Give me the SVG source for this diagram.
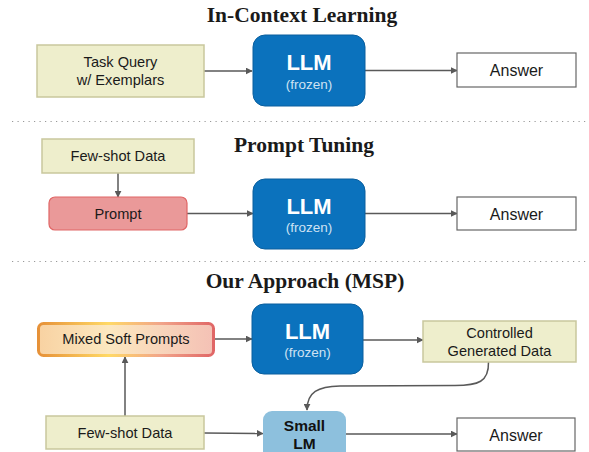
<svg xmlns="http://www.w3.org/2000/svg" width="589" height="452" viewBox="0 0 589 452">
<defs>
<style>
.title{font-family:"Liberation Serif","DejaVu Serif",serif;font-weight:bold;font-size:21.5px;fill:#1a1a1a;text-anchor:middle}
.lbl{font-family:"Liberation Sans",Arial,sans-serif;font-size:14.6px;fill:#1a1a1a;text-anchor:middle}
.alb{font-family:"Liberation Sans",Arial,sans-serif;font-size:16px;fill:#1a1a1a;text-anchor:middle}
.data{fill:#eeeecc;stroke:#c9c79d;stroke-width:1.5}
.ans{fill:#ffffff;stroke:#666666;stroke-width:1.2}
.llm{fill:#0b72bd;stroke:#0a5f9e;stroke-width:1}
.llmt{font-family:"Liberation Sans",Arial,sans-serif;font-weight:bold;font-size:22px;fill:#ffffff;text-anchor:middle}
.frz{font-family:"Liberation Sans",Arial,sans-serif;font-size:13.5px;fill:#cfe2f3;text-anchor:middle}
.con{fill:none;stroke:#595959;stroke-width:1.5;marker-end:url(#ah)}
.dot{stroke:#999999;stroke-width:1.2;stroke-dasharray:1.2 4.3}
.sml{font-family:"Liberation Sans",Arial,sans-serif;font-weight:bold;font-size:15.5px;fill:#111111;text-anchor:middle}
</style>
<marker id="ah" viewBox="0 0 10 10" refX="9" refY="5" markerWidth="7" markerHeight="7" markerUnits="userSpaceOnUse" orient="auto">
<path d="M0,0 L10,5 L0,10 z" fill="#595959"/>
</marker>
<linearGradient id="msps" x1="0" y1="0" x2="1" y2="0">
<stop offset="0" stop-color="#e69138"/>
<stop offset="0.4" stop-color="#ffd966"/>
<stop offset="0.7" stop-color="#f1a48a"/>
<stop offset="1" stop-color="#e06666"/>
</linearGradient>
<linearGradient id="mspf" x1="0" y1="0" x2="1" y2="0">
<stop offset="0" stop-color="#f8d2a2"/>
<stop offset="0.4" stop-color="#fce8c0"/>
<stop offset="1" stop-color="#f4c1b5"/>
</linearGradient>
</defs>
<rect width="589" height="452" fill="#ffffff"/>

<g id="titles">
<text class="title" x="302" y="21.5">In-Context Learning</text>
<text class="title" x="304" y="152">Prompt Tuning</text>
<text class="title" x="305" y="288">Our Approach (MSP)</text>
</g>
<g id="separators">
<line class="dot" x1="12" y1="121.5" x2="587" y2="121.5"/>
<line class="dot" x1="12" y1="261.5" x2="587" y2="261.5"/>
</g>

<g id="connectors">
<line class="con" x1="204" y1="71" x2="252" y2="71"/>
<line class="con" x1="365" y1="70.5" x2="457" y2="70.5"/>
<line class="con" x1="118" y1="173" x2="118" y2="197"/>
<line class="con" x1="187" y1="213.5" x2="253" y2="213.5"/>
<line class="con" x1="365" y1="213.5" x2="457" y2="213.5"/>
<line class="con" x1="125" y1="416" x2="125" y2="357"/>
<line class="con" x1="215" y1="339" x2="252" y2="339"/>
<line class="con" x1="363" y1="340" x2="423" y2="340"/>
<path class="con" d="M488.5,362 C489,382 478,385.5 455,385.5 L340,386 C318,386.5 307,392 307,410"/>
<line class="con" x1="204" y1="433" x2="263" y2="433.5"/>
<line class="con" x1="346" y1="434" x2="457" y2="434"/>
</g>

<g id="icl-query">
<rect class="data" x="37" y="45" width="167" height="52"/>
<text class="lbl" x="120.5" y="67">Task Query</text>
<text class="lbl" x="120.5" y="85">w/ Exemplars</text>
</g>
<g id="icl-llm">
<rect class="llm" x="253" y="35" width="112" height="71" rx="12"/>
<text class="llmt" x="309" y="70">LLM</text>
<text class="frz" x="309" y="89">(frozen)</text>
</g>
<g id="icl-answer">
<rect class="ans" x="457" y="53" width="119" height="34"/>
<text class="alb" x="516.5" y="76">Answer</text>
</g>

<g id="pt-fewshot">
<rect class="data" x="42" y="139" width="152" height="34"/>
<text class="lbl" x="118" y="161">Few-shot Data</text>
</g>
<g id="pt-prompt">
<rect x="49" y="197" width="138" height="33" rx="6" fill="#ea9999" stroke="#e06666" stroke-width="1.2"/>
<text class="lbl" x="118" y="219">Prompt</text>
</g>
<g id="pt-llm">
<rect class="llm" x="253" y="179" width="112" height="70" rx="12"/>
<text class="llmt" x="309" y="214">LLM</text>
<text class="frz" x="309" y="232">(frozen)</text>
</g>
<g id="pt-answer">
<rect class="ans" x="457" y="197" width="119" height="33"/>
<text class="alb" x="516.5" y="219.5">Answer</text>
</g>

<g id="msp-prompts">
<rect x="38.5" y="323.5" width="175" height="32" rx="5" fill="url(#mspf)" stroke="url(#msps)" stroke-width="3"/>
<text class="lbl" x="126" y="344">Mixed Soft Prompts</text>
</g>
<g id="msp-llm">
<rect class="llm" x="252" y="304" width="111" height="70" rx="12"/>
<text class="llmt" x="307.5" y="339">LLM</text>
<text class="frz" x="307.5" y="357">(frozen)</text>
</g>
<g id="msp-generated">
<rect class="data" x="423" y="321" width="153" height="41"/>
<text class="lbl" x="499.5" y="338">Controlled</text>
<text class="lbl" x="499.5" y="356">Generated Data</text>
</g>
<g id="msp-fewshot">
<rect class="data" x="46" y="416" width="158" height="33"/>
<text class="lbl" x="125" y="438">Few-shot Data</text>
</g>
<g id="msp-smalllm">
<rect x="263" y="411" width="83" height="50" rx="9" fill="#8dc0dd"/>
<text class="sml" x="304.5" y="431">Small</text>
<text class="sml" x="304.5" y="449">LM</text>
</g>
<g id="msp-answer">
<rect class="ans" x="457" y="418" width="118" height="33"/>
<text class="alb" x="516" y="440.5">Answer</text>
</g>
</svg>
